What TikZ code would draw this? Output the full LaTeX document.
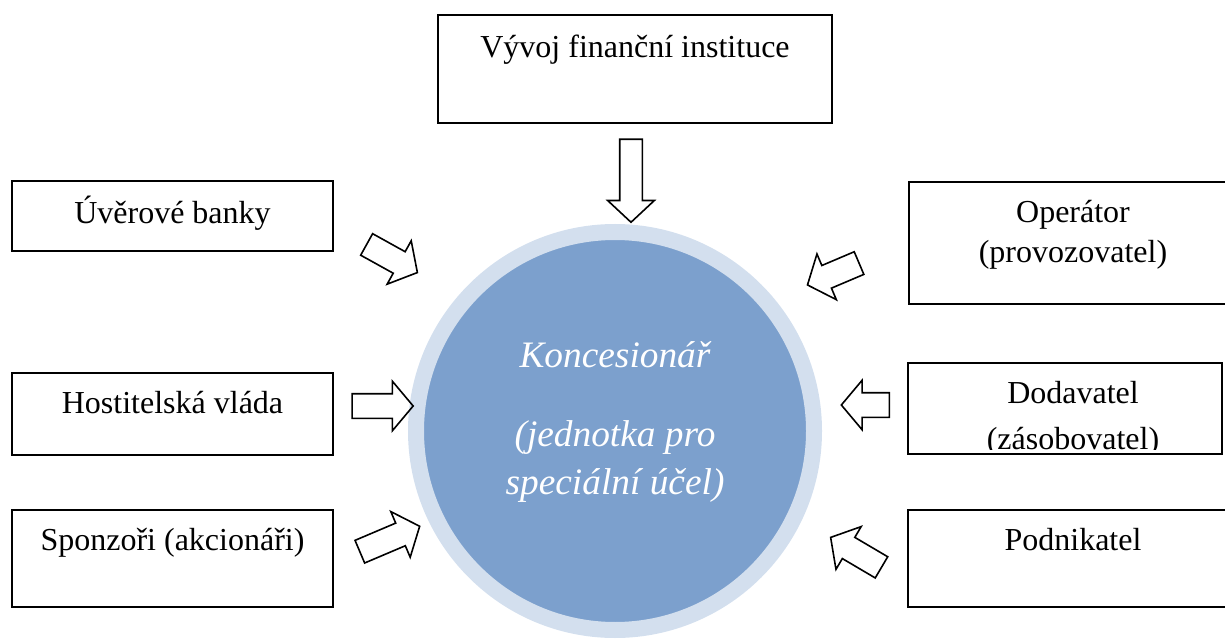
\documentclass[tikz,border=0pt]{standalone}
\usepackage{fontspec}
\setmainfont{Liberation Serif}
\usetikzlibrary{shapes.arrows}
\definecolor{ringblue}{RGB}{211,223,238}
\definecolor{discblue}{RGB}{124,160,205}
\tikzset{
  party/.style={draw, line width=0.9pt, inner sep=0pt},
  partytext/.style={anchor=base, inner sep=0pt, align=center, font=\fontsize{16}{20}\selectfont},
  fatarrow/.style={draw, single arrow, line width=0.8pt, inner xsep=0pt, inner ysep=5.75pt,
    single arrow head extend=6.25pt, single arrow tip angle=100, minimum height=#1},
}
\begin{document}
\begin{tikzpicture}[x=0.5pt,y=-0.5pt]
\useasboundingbox (0,0) rectangle (1225,641);
% koncesionar
\node[circle, fill=discblue, draw=ringblue, line width=8pt, minimum size=199pt] (konc) at (615,431) {};
\node[anchor=base, align=center, text=white, font=\itshape\fontsize{18.67}{24}\selectfont]
  (konctext) at ([yshift=-31.5pt]konc.center) {Koncesionář\\[15pt](jednotka pro\\speciální účel)};
% boxes
\node[party, minimum width=197pt, minimum height=54pt] (vyvoj) at (635,69) {};
\node[party, minimum width=160.5pt, minimum height=35pt] (banky) at (172.5,216) {};
\node[party, minimum width=160.5pt, minimum height=41pt] (vlada) at (172.5,414) {};
\node[party, minimum width=160.5pt, minimum height=48.5pt] (sponzori) at (172.5,558.5) {};
\node[party, minimum width=164pt, minimum height=61pt] (operator) at (1073,243) {};
\node[party, minimum width=157pt, minimum height=45.5pt] (dodavatel) at (1065,408.5) {};
\node[party, minimum width=165pt, minimum height=48.5pt] (podnikatel) at (1073,558.5) {};
\node[partytext] (vyvojtext) at ([yshift=-21.5pt]vyvoj.north) {Vývoj finanční instituce};
\node[partytext] (bankytext) at ([yshift=-21.5pt]banky.north) {Úvěrové banky};
\node[partytext] (vladatext) at ([yshift=-20.5pt]vlada.north) {Hostitelská vláda};
\node[partytext] (sponzoritext) at ([yshift=-20.5pt]sponzori.north) {Sponzoři (akcionáři)};
\node[partytext] (operatortext) at ([yshift=-40.5pt]operator.north) {Operátor\\(provozovatel)};
\node[partytext] (podnikateltext) at ([yshift=-20.5pt]podnikatel.north) {Podnikatel};
\begin{scope}
  \clip (dodavatel.north west) rectangle ([yshift=2.5pt]dodavatel.south east);
  \node[partytext] (dodavateltext) at ([xshift=4pt,yshift=-43.5pt]dodavatel.north) {Dodavatel\\[3pt](zásobovatel)};
\end{scope}
% arrows
\node[fatarrow=41.5pt, inner ysep=5.25pt, single arrow head extend=6pt, single arrow tip angle=94, rotate=-90] (avyvoj) at (631,175.5) {};
\node[fatarrow=29pt, rotate=-29] (abanky) at (387.5,256) {};
\node[fatarrow=30.5pt] (avlada) at (377.5,406) {};
\node[fatarrow=32.5pt, rotate=23] (asponzori) at (385,541) {};
\node[fatarrow=28pt, rotate=203] (aoperator) at (838,272) {};
\node[fatarrow=24pt, rotate=180] (adodavatel) at (870.5,405) {};
\node[fatarrow=29.5pt, rotate=149.5] (apodnikatel) at (860.5,555) {};
\end{tikzpicture}
\end{document}
